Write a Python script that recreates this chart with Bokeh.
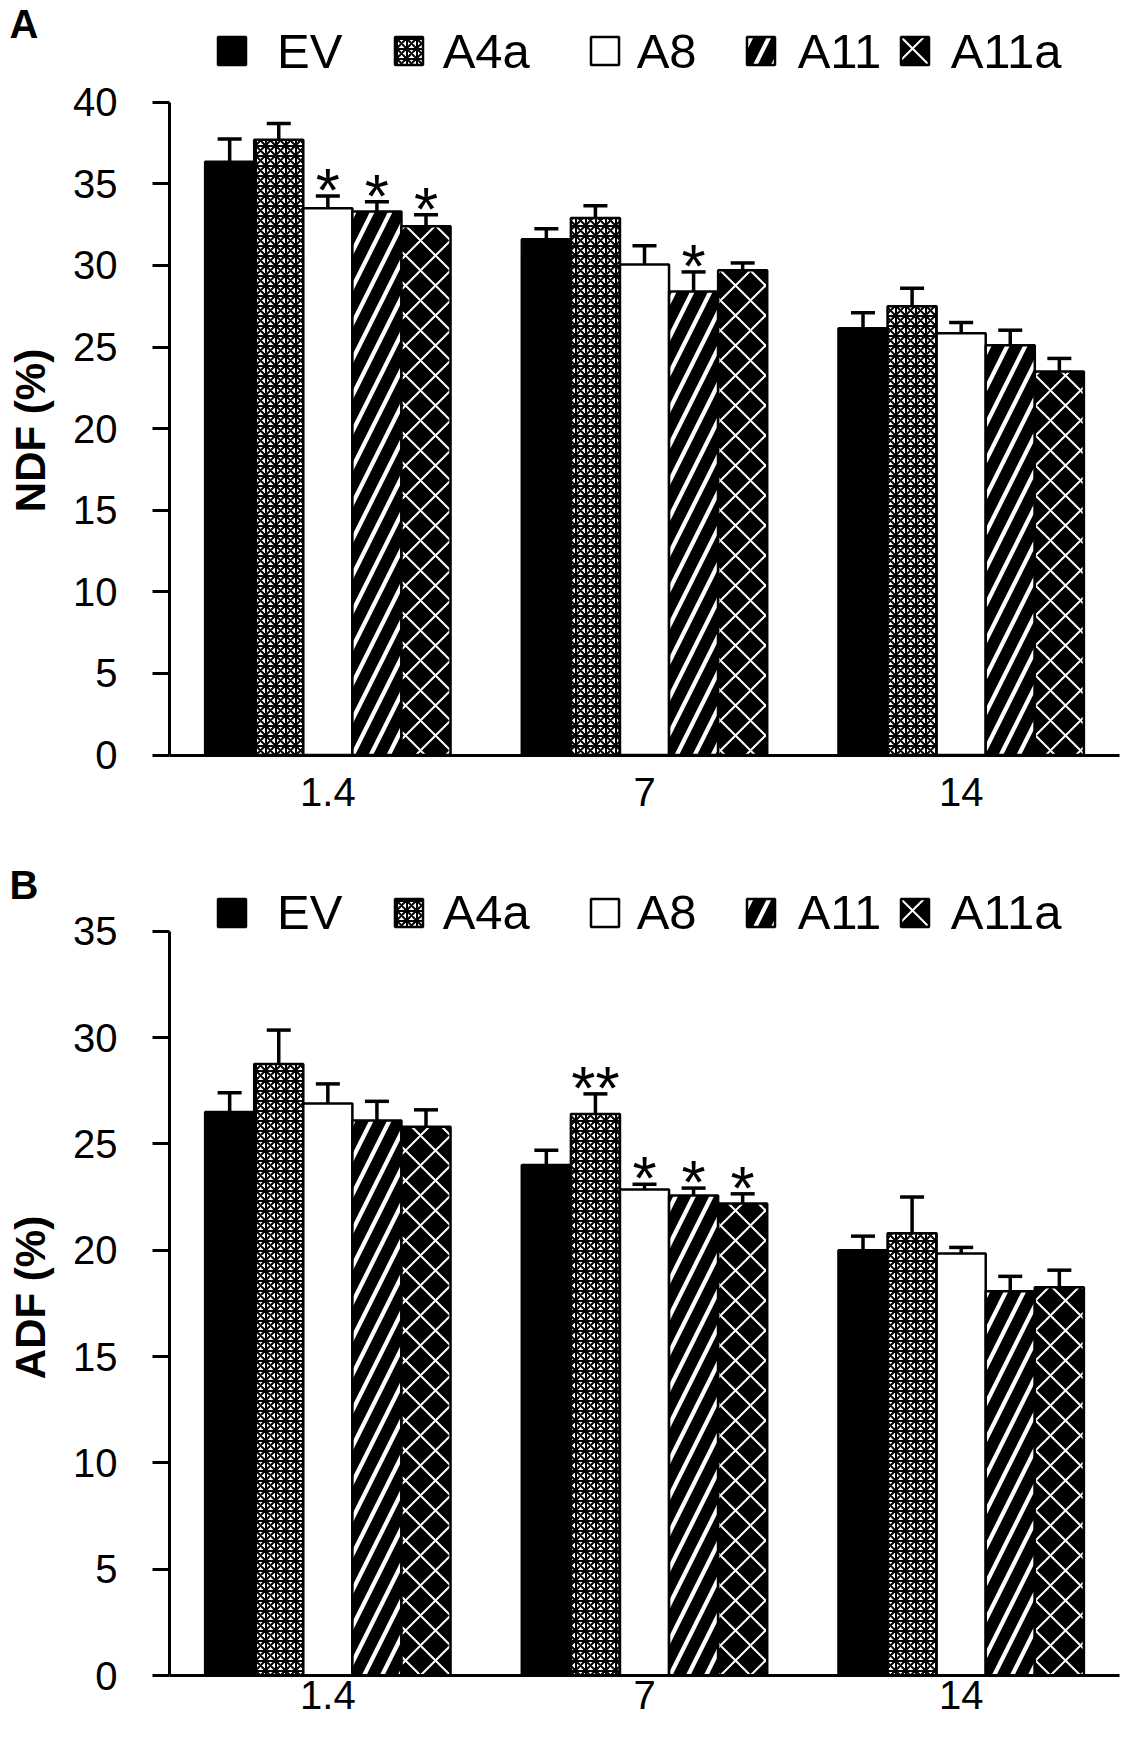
import math
from bokeh.plotting import figure
from bokeh.models import (Range1d, Whisker, TeeHead, Legend, LegendItem,
                          Label, ColumnDataSource, FixedTicker)
from bokeh.layouts import column
from bokeh.core.properties import value
from bokeh.embed import file_html
from bokeh.resources import INLINE

# ---------------- data ----------------
categories = ["1.4", "7", "14"]
series = ["EV", "A4a", "A8", "A11", "A11a"]

ndf_ev = [36.35, 31.6, 26.15]
ndf_a4a = [37.7, 32.9, 27.5]
ndf_a8 = [33.5, 30.05, 25.85]
ndf_a11 = [33.3, 28.4, 25.1]
ndf_a11a = [32.4, 29.7, 23.5]
ndf_ev_err = [1.4, 0.65, 0.95]
ndf_a4a_err = [1.0, 0.75, 1.1]
ndf_a8_err = [0.75, 1.15, 0.65]
ndf_a11_err = [0.6, 1.2, 0.93]
ndf_a11a_err = [0.7, 0.45, 0.8]
ndf_ev_sig = ["", "", ""]
ndf_a4a_sig = ["", "", ""]
ndf_a8_sig = ["*", "", ""]
ndf_a11_sig = ["*", "*", ""]
ndf_a11a_sig = ["*", "", ""]

adf_ev = [26.5, 24.0, 20.0]
adf_a4a = [28.75, 26.4, 20.8]
adf_a8 = [26.9, 22.85, 19.85]
adf_a11 = [26.1, 22.57, 18.07]
adf_a11a = [25.8, 22.2, 18.26]
adf_ev_err = [0.9, 0.7, 0.66]
adf_a4a_err = [1.6, 0.95, 1.7]
adf_a8_err = [0.92, 0.25, 0.28]
adf_a11_err = [0.9, 0.35, 0.7]
adf_a11a_err = [0.8, 0.45, 0.8]
adf_ev_sig = ["", "", ""]
adf_a4a_sig = ["", "**", ""]
adf_a8_sig = ["", "*", ""]
adf_a11_sig = ["", "*", ""]
adf_a11a_sig = ["", "*", ""]

ndf_vals = [ndf_ev, ndf_a4a, ndf_a8, ndf_a11, ndf_a11a]
ndf_errs = [ndf_ev_err, ndf_a4a_err, ndf_a8_err, ndf_a11_err, ndf_a11a_err]
ndf_sigs = [ndf_ev_sig, ndf_a4a_sig, ndf_a8_sig, ndf_a11_sig, ndf_a11a_sig]
adf_vals = [adf_ev, adf_a4a, adf_a8, adf_a11, adf_a11a]
adf_errs = [adf_ev_err, adf_a4a_err, adf_a8_err, adf_a11_err, adf_a11a_err]
adf_sigs = [adf_ev_sig, adf_a4a_sig, adf_a8_sig, adf_a11_sig, adf_a11a_sig]

# ---------------- layout / style ----------------
FONT = "Liberation Sans"
FIG_W = 1134
AXIS_X = 169          # pixel column of the y axis
CAT_PX = 316.67       # pixel width of one category
BAR_W = 0.155
offsets = [-2 * BAR_W, -BAR_W, 0.0, BAR_W, 2 * BAR_W]
styles = [
    dict(fill_color="black"),
    dict(fill_color="white", hatch_pattern="criss_cross", hatch_color="black",
         hatch_scale=10, hatch_weight=2.0),
    dict(fill_color="white"),
    dict(fill_color="black", hatch_pattern="right_diagonal_line", hatch_color="white",
         hatch_scale=36, hatch_weight=4.2),
    dict(fill_color="black", hatch_pattern="diagonal_cross", hatch_color="white",
         hatch_scale=30, hatch_weight=2.0),
]
leg_x = [214, 390.7, 586.7, 742.7, 896.7]
leg_standoff = [28, 17, 15, 20, 19]


def make_panel(letter, ylabel, ymax, vals, errs, sigs, height, axis0_px,
               axis_top_px, leg_center_px, letter_base_px, ylabel_px, xstandoff):
    # the frame covers the whole figure; both axes are pinned at data zero
    ppu = (axis0_px - axis_top_px) / ymax
    y_top = ymax + axis_top_px / ppu
    y_bot = -(height - axis0_px) / ppu
    x_start = -AXIS_X / CAT_PX
    x_end = (FIG_W - AXIS_X) / CAT_PX
    p = figure(x_range=Range1d(x_start, x_end), y_range=Range1d(y_bot, y_top),
               width=FIG_W, height=height, output_backend="svg",
               toolbar_location=None, min_border_left=0, min_border_right=0,
               min_border_top=0, min_border_bottom=0)
    p.title.visible = False
    p.outline_line_color = None
    p.xgrid.grid_line_color = None
    p.ygrid.grid_line_color = None

    ncat = len(categories)
    p.xaxis.fixed_location = 0
    p.xaxis.ticker = FixedTicker(ticks=[i + 0.5 for i in range(ncat)])
    p.xaxis.major_label_overrides = {i + 0.5: c for i, c in enumerate(categories)}
    p.xaxis.bounds = (0, ncat)
    p.xaxis.axis_line_width = 3
    p.xaxis.major_tick_out = 0
    p.xaxis.major_tick_in = 0
    p.xaxis.minor_tick_out = 0
    p.xaxis.minor_tick_in = 0
    p.xaxis.major_label_text_font = FONT
    p.xaxis.major_label_text_font_size = "40px"
    p.xaxis.major_label_text_color = "black"
    p.xaxis.major_label_standoff = xstandoff

    p.yaxis.fixed_location = 0
    p.yaxis.bounds = (0, ymax)
    p.yaxis.ticker = FixedTicker(ticks=list(range(0, ymax + 1, 5)))
    p.yaxis.axis_line_width = 3
    p.yaxis.major_tick_out = 17
    p.yaxis.major_tick_in = 0
    p.yaxis.major_tick_line_width = 3
    p.yaxis.minor_tick_out = 0
    p.yaxis.minor_tick_in = 0
    p.yaxis.major_label_text_font = FONT
    p.yaxis.major_label_text_font_size = "40px"
    p.yaxis.major_label_text_color = "black"
    p.yaxis.major_label_standoff = 35

    row_h = 60
    leg_y = height - (leg_center_px + row_h / 2)
    for i, name in enumerate(series):
        v = vals[i]
        e = errs[i]
        src = ColumnDataSource(dict(
            x=[k + 0.5 + offsets[i] for k in range(ncat)], top=v,
            upper=[a + b for a, b in zip(v, e)],
            lower=[a - b for a, b in zip(v, e)],
            sig=sigs[i]))
        r = p.vbar(x="x", top="top", width=BAR_W, source=src,
                   line_color="black", line_width=2.5, **styles[i])
        w = Whisker(source=src, base="x", upper="upper", lower="lower",
                    line_color="black", line_width=3.5,
                    upper_head=TeeHead(size=24, line_width=3.5, line_color="black"),
                    lower_head=TeeHead(size=24, line_width=3.5, line_color="black"))
        p.add_layout(w)
        p.text(x="x", y="upper", text="sig", source=src,
               text_font=value(FONT), text_font_size="62px",
               text_align="center", text_baseline="middle", y_offset=-6.5,
               text_color="black")
        leg = Legend(items=[LegendItem(label=name, renderers=[r])],
                     location=(leg_x[i], leg_y), orientation="horizontal",
                     padding=0, margin=0, spacing=0,
                     glyph_width=35, glyph_height=35, label_height=row_h,
                     label_standoff=leg_standoff[i],
                     label_text_font=FONT, label_text_font_size="49px",
                     label_text_color="black",
                     border_line_alpha=0, background_fill_alpha=0)
        p.add_layout(leg, "center")

    p.add_layout(Label(x=9, y=height - letter_base_px, x_units="screen",
                       y_units="screen", text=letter, text_font=FONT,
                       text_font_size="40px", text_font_style="bold",
                       text_color="black", text_baseline="alphabetic"))
    p.add_layout(Label(x=30, y=height - ylabel_px, x_units="screen",
                       y_units="screen", text=ylabel, angle=math.pi / 2,
                       text_font=FONT, text_font_size="42px",
                       text_font_style="bold", text_color="black",
                       text_align="center", text_baseline="middle"))
    return p


H_A = 835
H_B = 906
pA = make_panel("A", "NDF (%)", 40, ndf_vals, ndf_errs, ndf_sigs,
                height=H_A, axis0_px=754.5, axis_top_px=101.7,
                leg_center_px=50.8, letter_base_px=23.5, ylabel_px=430,
                xstandoff=23)
pB = make_panel("B", "ADF (%)", 35, adf_vals, adf_errs, adf_sigs,
                height=H_B, axis0_px=1675 - H_A, axis_top_px=930.7 - H_A,
                leg_center_px=912 - H_A, letter_base_px=884 - H_A,
                ylabel_px=1297 - H_A, xstandoff=5)

layout = column(pA, pB, spacing=0)
open("out.html", "w").write(file_html(layout, INLINE))
